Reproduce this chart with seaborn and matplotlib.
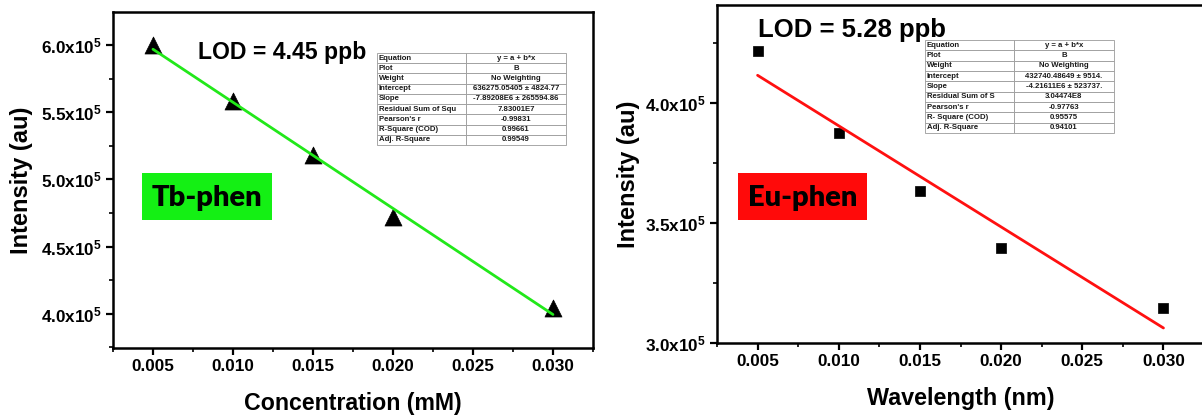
import numpy as np
import pandas as pd
import matplotlib
matplotlib.use("Agg")
import matplotlib.pyplot as plt
from matplotlib.patches import Rectangle
from matplotlib.ticker import FixedLocator, FixedFormatter, MultipleLocator
import seaborn as sns

# ---------------- data ----------------
tb_conc = [0.005, 0.010, 0.015, 0.020, 0.030]
tb_intensity = [6.00e5, 5.585e5, 5.18e5, 4.72e5, 4.04e5]
tb_intercept = 636275.05405
tb_slope = -7.89208e6

eu_wave = [0.005, 0.010, 0.015, 0.020, 0.030]
eu_intensity = [4.22e5, 3.875e5, 3.633e5, 3.395e5, 3.148e5]
eu_intercept = 432740.48649
eu_slope = -4.21611e6

x_ticks = [0.005, 0.010, 0.015, 0.020, 0.025, 0.030]
x_ticklabels = ["0.005", "0.010", "0.015", "0.020", "0.025", "0.030"]
tb_yticks = [4.0e5, 4.5e5, 5.0e5, 5.5e5, 6.0e5]
tb_yticklabels = [r"$\mathbf{4.0x10^5}$", r"$\mathbf{4.5x10^5}$", r"$\mathbf{5.0x10^5}$",
                  r"$\mathbf{5.5x10^5}$", r"$\mathbf{6.0x10^5}$"]
eu_yticks = [3.0e5, 3.5e5, 4.0e5]
eu_yticklabels = [r"$\mathbf{3.0x10^5}$", r"$\mathbf{3.5x10^5}$", r"$\mathbf{4.0x10^5}$"]

table_keys = ["Equation", "Plot", "Weight", "Intercept", "Slope",
              "Residual Sum of Squ", "Pearson's r", "R-Square (COD)", "Adj. R-Square"]
tb_table_vals = ["y = a + b*x", "B", "No Weighting", "636275.05405 ± 4824.77",
                 "-7.89208E6 ± 265594.86", "7.83001E7", "-0.99831", "0.99661", "0.99549"]
eu_table_keys = ["Equation", "Plot", "Weight", "Intercept", "Slope",
                 "Residual Sum of S", "Pearson's r", "R- Square (COD)", "Adj. R-Square"]
eu_table_vals = ["y = a + b*x", "B", "No Weighting", "432740.48649 ± 9514.",
                 "-4.21611E6 ± 523737.", "3.04474E8", "-0.97763", "0.95575", "0.94101"]

# ---------------- style ----------------
sns.set_theme(style="ticks")
plt.rcParams["font.family"] = ["Liberation Sans", "DejaVu Sans"]
plt.rcParams["mathtext.fontset"] = "custom"
plt.rcParams["mathtext.rm"] = "Liberation Sans"
plt.rcParams["mathtext.bf"] = "Liberation Sans:bold"
plt.rcParams["mathtext.it"] = "Liberation Sans:italic"
for k in ["text.color", "axes.labelcolor", "xtick.color", "ytick.color",
          "xtick.labelcolor", "ytick.labelcolor", "axes.edgecolor"]:
    plt.rcParams[k] = "black"

fig = plt.figure(figsize=(12.02, 4.17), dpi=100)
ax1 = fig.add_axes([0.094, 0.1655, 0.3993, 0.806])
ax2 = fig.add_axes([0.5965, 0.1775, 0.4052, 0.8106])

df_tb = pd.DataFrame({"x": tb_conc, "y": tb_intensity})
df_eu = pd.DataFrame({"x": eu_wave, "y": eu_intensity})
tb_fx = np.array([min(tb_conc), max(tb_conc)])
eu_fx = np.array([min(eu_wave), max(eu_wave)])
df_tb_fit = pd.DataFrame({"x": tb_fx, "y": tb_intercept + tb_slope * tb_fx})
df_eu_fit = pd.DataFrame({"x": eu_fx, "y": eu_intercept + eu_slope * eu_fx})

sns.scatterplot(data=df_tb, x="x", y="y", ax=ax1, marker="^", s=150, color="black",
                edgecolor="black", linewidth=0.5, zorder=3)
sns.lineplot(data=df_tb_fit, x="x", y="y", ax=ax1, color="#22e81a", linewidth=2.0, zorder=4)

sns.scatterplot(data=df_eu, x="x", y="y", ax=ax2, marker="s", s=55, color="black",
                edgecolor="black", linewidth=0.5, zorder=3)
sns.lineplot(data=df_eu_fit, x="x", y="y", ax=ax2, color="#ff1010", linewidth=2.0, zorder=4)

ax1.set_xlim(0.0025, 0.0325)
ax1.set_ylim(3.746e5, 6.246e5)
ax2.set_xlim(0.0025, 0.0325)
ax2.set_ylim(3.0e5, 4.41e5)

for ax, yt, ytl in [(ax1, tb_yticks, tb_yticklabels), (ax2, eu_yticks, eu_yticklabels)]:
    ax.xaxis.set_major_locator(FixedLocator(x_ticks))
    ax.xaxis.set_major_formatter(FixedFormatter(x_ticklabels))
    ax.xaxis.set_minor_locator(MultipleLocator(0.0025))
    ax.yaxis.set_major_locator(FixedLocator(yt))
    ax.yaxis.set_major_formatter(FixedFormatter(ytl))
    ax.yaxis.set_minor_locator(MultipleLocator(0.25e5))
    ax.tick_params(which="major", direction="out", length=5, width=1.6, labelsize=12.3,
                   pad=3, colors="black")
    ax.tick_params(which="minor", direction="out", length=3, width=1.2, colors="black")
    for lab in ax.get_xticklabels():
        lab.set_fontweight("bold")
    for s in ax.spines.values():
        s.set_visible(True)
        s.set_linewidth(1.8)
        s.set_color("black")
    ax.set_ylabel("Intensity (au)", fontsize=17, fontweight="bold", color="black")

ax1.set_xlabel("Concentration (mM)", fontsize=16.7, fontweight="bold", labelpad=13, color="black")
ax2.set_xlabel("Wavelength (nm)", fontsize=16.8, fontweight="bold", labelpad=13, color="black")
ax1.yaxis.set_label_coords(-0.167, 0.5)
ax2.yaxis.set_label_coords(-0.158, 0.5)

# LOD annotations
ax1.text(0.177, 0.878, "LOD = 4.45 ppb", transform=ax1.transAxes, fontsize=16.6,
         fontweight="bold", ha="left", va="center", color="black")
ax2.text(0.084, 0.926, "LOD = 5.28 ppb", transform=ax2.transAxes, fontsize=18.5,
         fontweight="bold", ha="left", va="center", color="black")

# coloured labels
ax1.add_patch(Rectangle((0.06, 0.381), 0.271, 0.14, transform=ax1.transAxes,
                        facecolor="#14f014", edgecolor="none", zorder=2))
ax1.text(0.1955, 0.447, "Tb-phen", transform=ax1.transAxes, fontsize=21,
         fontweight="heavy", family=["Lato", "DejaVu Sans"], ha="center", va="center",
         color="black", zorder=5)
ax2.add_patch(Rectangle((0.043, 0.364), 0.265, 0.139, transform=ax2.transAxes,
                        facecolor="#ff0a0a", edgecolor="none", zorder=2))
ax2.text(0.1755, 0.429, "Eu-phen", transform=ax2.transAxes, fontsize=21,
         fontweight="heavy", family=["Lato", "DejaVu Sans"], ha="center", va="center",
         color="black", zorder=5)

# fit tables
def draw_table(ax, keys, vals, bbox):
    cells = [[k, v] for k, v in zip(keys, vals)]
    tbl = ax.table(cellText=cells, bbox=bbox, colWidths=[0.47, 0.53], zorder=6)
    tbl.auto_set_font_size(False)
    for (r, c), cell in tbl.get_celld().items():
        cell.set_edgecolor("#9a9a9a")
        cell.set_linewidth(0.6)
        cell.set_facecolor("white")
        txt = cell.get_text()
        txt.set_fontsize(5.6)
        txt.set_fontweight("bold")
        txt.set_color("#1a1a1a")
        if c == 0:
            cell._loc = "left"
            txt.set_ha("left")
            cell.PAD = 0.02
        else:
            cell._loc = "center"
            txt.set_ha("center")
    return tbl

draw_table(ax1, table_keys, tb_table_vals, [0.55, 0.604, 0.394, 0.274])
draw_table(ax2, eu_table_keys, eu_table_vals, [0.427, 0.621, 0.388, 0.275])

fig.savefig("out.png", dpi=100)
